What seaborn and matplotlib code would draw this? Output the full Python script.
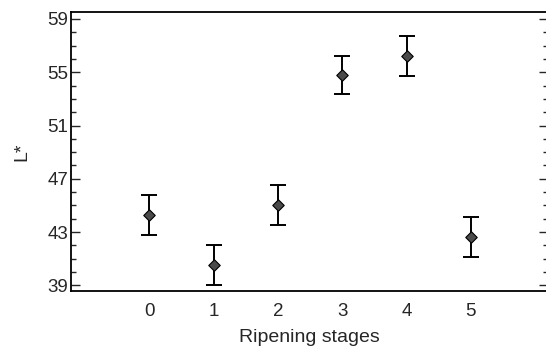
import matplotlib
matplotlib.use('Agg')
import matplotlib.pyplot as plt
import seaborn as sns
import pandas as pd
from matplotlib.ticker import MultipleLocator

# valores
stages = [0, 1, 2, 3, 4, 5]
l_star = [44.3, 40.55, 45.0, 54.8, 56.2, 42.6]
l_err = [1.5, 1.5, 1.5, 1.45, 1.5, 1.5]
y_ticks = [39, 43, 47, 51, 55, 59]

df = pd.DataFrame({'stage': stages, 'L': l_star, 'err': l_err})

sns.set_style("white")
plt.rcParams['font.family'] = ['Liberation Sans', 'DejaVu Sans']

fig = plt.figure(figsize=(5.46, 3.5), dpi=100)
ax = fig.add_axes([71 / 546, 1 - 290.7 / 350, (548 - 71) / 546, (290.7 - 12.3) / 350])

ax.errorbar(df['stage'], df['L'], yerr=df['err'], fmt='none', ecolor='black',
            elinewidth=1.4, capsize=5.5, capthick=1.4, zorder=2)
sns.scatterplot(data=df, x='stage', y='L', marker='D', s=34, color='#4a4a4a',
                edgecolor='black', linewidth=0.8, ax=ax, zorder=3)

ax.set_xlim(-1.22, 6.2)
ax.set_ylim(38.6, 59.5)
ax.set_xticks(stages)
ax.set_yticks(y_ticks)
ax.yaxis.set_minor_locator(MultipleLocator(1))
ax.tick_params(axis='x', length=0, labelsize=13.5, pad=9)
ax.tick_params(axis='y', which='major', direction='in', length=6.5, width=1,
               left=True, right=True, labelsize=13.5, pad=2)
ax.tick_params(axis='y', which='minor', direction='in', length=3.6, width=1,
               left=True, right=True)

for side in ['left', 'top', 'bottom']:
    ax.spines[side].set_visible(True)
    ax.spines[side].set_color('black')
    ax.spines[side].set_linewidth(1.3)
ax.spines['right'].set_visible(False)

ax.set_xlabel('Ripening stages', fontsize=14, labelpad=6)
ax.set_ylabel('L*', fontsize=14, labelpad=12)

fig.savefig('out.png', dpi=100)
